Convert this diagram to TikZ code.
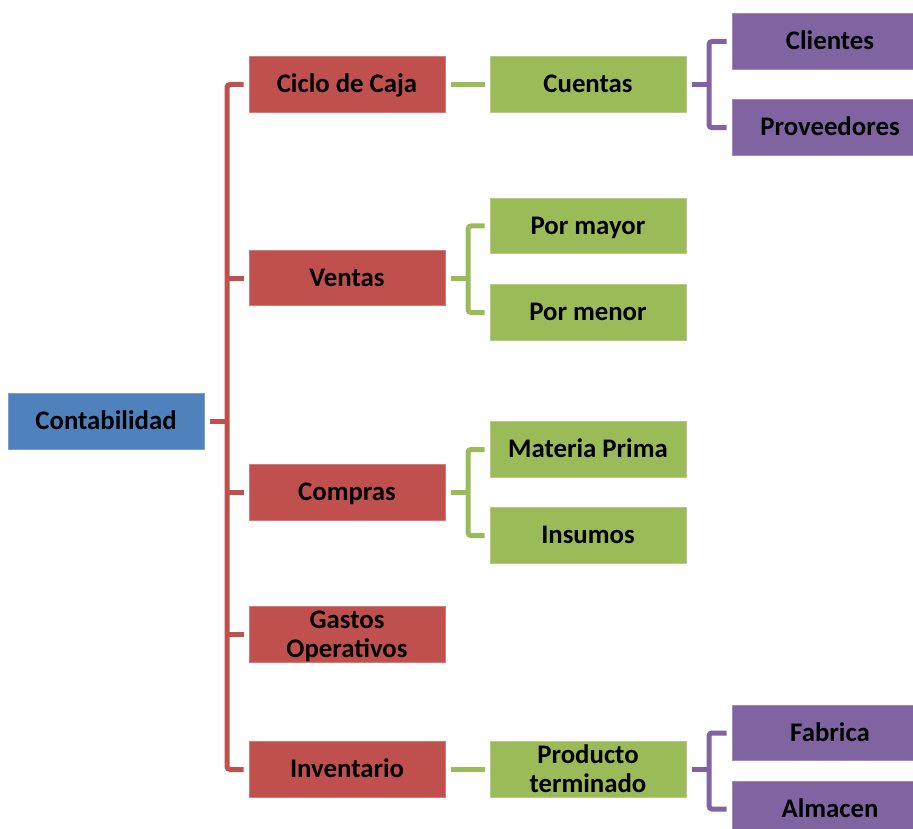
\documentclass[tikz,border=0pt]{standalone}
\usepackage{fontspec}
\setmainfont{Carlito}
\usetikzlibrary{calc}
\definecolor{cblue}{HTML}{4F81BD}
\definecolor{cred}{HTML}{C0504D}
\definecolor{cgreen}{HTML}{9BBB59}
\definecolor{cpurple}{HTML}{8064A2}
% two centred lines in one box
\newcommand{\twolines}[2]{\raisebox{-0.5pt}[0pt][0pt]{\begin{tabular}[c]{@{}c@{}}#1\\#2\end{tabular}}}
\begin{document}
\begin{tikzpicture}[x=1pt,y=-1pt,
  box/.style={rectangle, minimum width=196pt, minimum height=55.5pt, inner sep=0pt,
    text height=19.5pt, text depth=3pt,
    font=\fontsize{26.8}{29.5}\selectfont\bfseries, text=black, line width=1pt},
  bluebox/.style={box, fill=cblue, draw=cblue!75!white},
  redbox/.style={box, fill=cred, draw=cred!75!white},
  greenbox/.style={box, fill=cgreen, draw=cgreen!75!white},
  purplebox/.style={box, fill=cpurple, draw=cpurple!75!white},
  link/.style={line width=5pt, line cap=butt, rounded corners=3pt},
  redlink/.style={link, draw=cred},
  greenlink/.style={link, draw=cgreen},
  purplelink/.style={link, draw=cpurple}]
\useasboundingbox (0,0) rectangle (913,829);

% root
\node[bluebox] (cont) at (106,421.5) {Contabilidad};

% first level
\node[redbox] (ciclo) at (347,84.5) {Ciclo de Caja};
\node[redbox] (ventas) at (347,278) {Ventas};
\node[redbox] (compras) at (347,492.5) {Compras};
\node[redbox] (gastos) at (347,634.5) {\twolines{Gastos}{Operativos}};
\node[redbox] (inv) at (347,769.5) {Inventario};

% second level
\node[greenbox] (cuentas) at (588,84.5) {Cuentas};
\node[greenbox] (mayor) at (588,226) {Por mayor};
\node[greenbox] (menor) at (588,312.5) {Por menor};
\node[greenbox] (materia) at (588,449.5) {Materia Prima};
\node[greenbox] (insumos) at (588,535.5) {Insumos};
\node[greenbox] (producto) at (588,769.5) {\twolines{Producto}{terminado}};

% third level
\node[purplebox] (clientes) at (830,41.5) {Clientes};
\node[purplebox] (prov) at (830,127.7) {Proveedores};
\node[purplebox] (fabrica) at (830,733) {Fabrica};
\node[purplebox] (almacen) at (830,809) {Almacen};

% bus lines of the brackets
\coordinate (rbus) at (227,0);
\coordinate (gbus) at (468,0);
\coordinate (pbus) at (709,0);

% root bracket
\draw[redlink] ($(cont.east)+(5,0)$) -- (cont.east -| rbus);
\draw[redlink] ($(ciclo.west)+(-5,0)$) -| (rbus |- cont.east) |- ($(inv.west)+(-5,0)$);
\draw[redlink] ($(ventas.west)+(-5,0)$) -- (ventas.west -| rbus);
\draw[redlink] ($(compras.west)+(-5,0)$) -- (compras.west -| rbus);
\draw[redlink] ($(gastos.west)+(-5,0)$) -- (gastos.west -| rbus);

% second level connectors
\draw[greenlink] ($(ciclo.east)+(5,0)$) -- ($(cuentas.west)+(-5,0)$);
\draw[greenlink] ($(inv.east)+(5,0)$) -- ($(producto.west)+(-5,0)$);
\draw[greenlink] ($(ventas.east)+(5,0)$) -- (ventas.east -| gbus);
\draw[greenlink] ($(mayor.west)+(-5,0)$) -| (gbus |- ventas.east) |- ($(menor.west)+(-5,0)$);
\draw[greenlink] ($(compras.east)+(5,0)$) -- (compras.east -| gbus);
\draw[greenlink] ($(materia.west)+(-5,0)$) -| (gbus |- compras.east) |- ($(insumos.west)+(-5,0)$);

% third level connectors
\draw[purplelink] ($(cuentas.east)+(5,0)$) -- (cuentas.east -| pbus);
\draw[purplelink] ($(clientes.west)+(-5,0)$) -| (pbus |- cuentas.east) |- ($(prov.west)+(-5,0)$);
\draw[purplelink] ($(producto.east)+(5,0)$) -- (producto.east -| pbus);
\draw[purplelink] ($(fabrica.west)+(-5,0)$) -| (pbus |- producto.east) |- ($(almacen.west)+(-5,0)$);
\end{tikzpicture}
\end{document}
